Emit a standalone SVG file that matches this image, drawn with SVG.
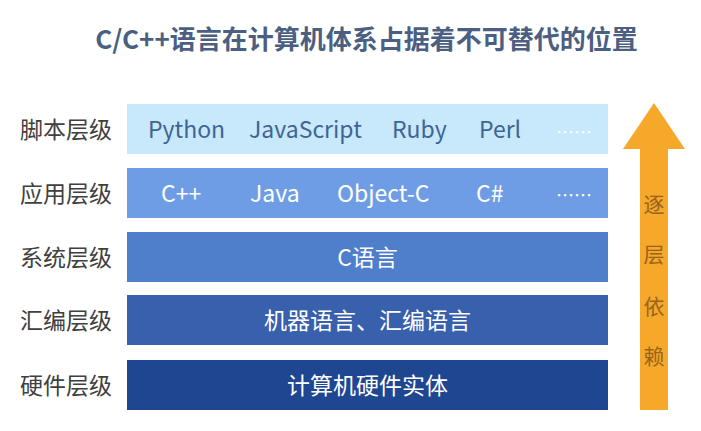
<svg xmlns="http://www.w3.org/2000/svg" width="701" height="431" viewBox="0 0 701 431">
<style>
text{font-family:"Noto Sans CJK SC","Noto Sans",sans-serif;}
.title{font-size:26px;font-weight:bold;fill:#4b5f82;}
.lab{font-size:23px;fill:#404040;}
.item{font-size:23px;}
.r1 text{fill:#3e6593;}
.w text{fill:#ffffff;}
.dots{font-size:18px;}
.arrtxt{font-size:21px;fill:#9a6418;}
</style>
<rect width="701" height="431" fill="#ffffff"/>
<text class="title" x="366.5" y="49" text-anchor="middle">C/C++语言在计算机体系占据着不可替代的位置</text>

<g id="script-layer">
<text class="lab" x="20" y="138">脚本层级</text>
<rect x="127" y="104" width="481" height="50" fill="#c8e8fb"/>
<g class="r1">
<text class="item" x="148" y="138">Python</text>
<text class="item" x="249" y="138">JavaScript</text>
<text class="item" x="392" y="138">Ruby</text>
<text class="item" x="479" y="138">Perl</text>
</g>
<text class="dots" x="556" y="139" fill="#ffffff">……</text>
</g>

<g id="app-layer">
<text class="lab" x="20" y="202">应用层级</text>
<rect x="127" y="168" width="481" height="50" fill="#6f9de5"/>
<g class="w">
<text class="item" x="161" y="202">C++</text>
<text class="item" x="250" y="202">Java</text>
<text class="item" x="337" y="202">Object-C</text>
<text class="item" x="476" y="202">C#</text>
<text class="dots" x="556" y="202">……</text>
</g>
</g>

<g id="system-layer">
<text class="lab" x="20" y="266">系统层级</text>
<rect x="127" y="232" width="481" height="50" fill="#4f7ecb"/>
<text class="item" x="367.5" y="266" text-anchor="middle" fill="#ffffff">C语言</text>
</g>

<g id="asm-layer">
<text class="lab" x="20" y="329">汇编层级</text>
<rect x="127" y="295" width="481" height="50" fill="#3860ad"/>
<text class="item" x="367.5" y="329" text-anchor="middle" fill="#ffffff">机器语言、汇编语言</text>
</g>

<g id="hw-layer">
<text class="lab" x="20" y="394">硬件层级</text>
<rect x="127" y="360" width="481" height="50" fill="#1f4690"/>
<text class="item" x="367.5" y="394" text-anchor="middle" fill="#ffffff">计算机硬件实体</text>
</g>

<g id="connectors">
<polygon points="654,103 685,149 668,149 668,410 640,410 640,149 623,149" fill="#f6a82b"/>
<text class="arrtxt" x="654" y="212" text-anchor="middle">逐</text>
<text class="arrtxt" x="654" y="262" text-anchor="middle">层</text>
<text class="arrtxt" x="654" y="314" text-anchor="middle">依</text>
<text class="arrtxt" x="654" y="364" text-anchor="middle">赖</text>
</g>
</svg>
